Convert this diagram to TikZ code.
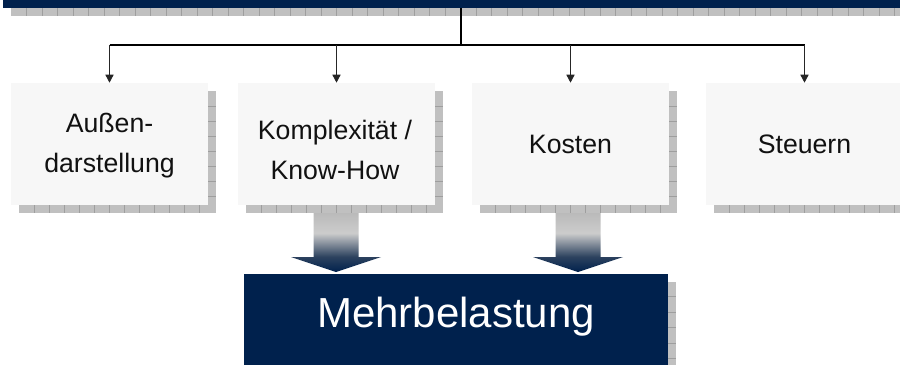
\documentclass[tikz,border=0pt]{standalone}
\usepackage{fontspec}
\setmainfont{Liberation Sans}
\usetikzlibrary{arrows.meta}
\definecolor{navy}{RGB}{0,33,77}
\definecolor{boxfill}{RGB}{247,247,247}
\definecolor{shadowgray}{RGB}{192,192,192}
\definecolor{gridgray}{RGB}{158,158,158}
\definecolor{txt}{RGB}{17,17,17}
\pgfdeclareverticalshading{blockshade}{100bp}{%
  color(0bp)=(navy); color(25bp)=(navy); color(38bp)=(navy!65!gray);
  color(58bp)=(black!20); color(75bp)=(black!27); color(100bp)=(black!27)}
\tikzset{
  box/.style={fill=boxfill, minimum width=147.75pt, minimum height=91.5pt, inner sep=0pt},
  lbl/.style={font=\fontsize{20}{30}\selectfont, align=center, inner sep=0pt, text=txt},
  gridline/.style={gridgray, line width=0.6pt},
  conn/.style={black, line width=0.8pt},
  drop/.style={black!85, line width=1pt, -{Triangle[width=6pt,length=6pt]}},
  blockarrow/.style={shading=blockshade}
}
\newcommand{\gshadow}[4]{%
  \fill[shadowgray] ({#1+8},{#4}) rectangle ({#3+8},{#4+8});
  \fill[shadowgray] ({#3},{#2+8}) rectangle ({#3+8},{#4+8});
  \foreach \k in {1,...,12} \draw[gridline] ({#1+8+15*\k},{#4}) -- ++(0,8);
  \foreach \k in {1,...,7} \draw[gridline] ({#3},{#2+8+15*\k}) -- ++(8,0);
}
\begin{document}
\begin{tikzpicture}[x=0.75pt,y=-0.75pt]
\useasboundingbox (0,0) rectangle (900,365);
\fill[white] (0,0) rectangle (900,365);
% top bar
\fill[shadowgray] (11,8) rectangle (900,16);
\foreach \k in {1,...,57} \draw[gridline] ({11+15.5*\k},8) -- ++(0,8);
\node[fill=navy, minimum width=672.75pt, minimum height=6pt, inner sep=0pt] (top) at (451.5,4) {};
% shadows
\gshadow{11}{83}{208}{205}
\gshadow{238}{83}{435}{205}
\gshadow{472}{83}{669}{205}
\gshadow{706}{83}{903}{205}
% boxes
\node[box] (b1) at (109.5,144) {};
\node[box] (b2) at (336.5,144) {};
\node[box] (b3) at (570.5,144) {};
\node[box] (b4) at (804.5,144) {};
\node[lbl] (t1) at (109.5,146) {Außen-\\darstellung};
\node[lbl] (t2) at (335,150) {Komplexität /\\Know-How};
\node[lbl] (t3) at (570.5,144) {Kosten};
\node[lbl] (t4) at (804.5,144) {Steuern};
% connectors
\coordinate (hub) at (461,45);
\draw[black, line width=1.5pt] (top.south -| hub) -- (hub);
\draw[conn] (b1.north |- hub) -- (b4.north |- hub);
\foreach \b in {b1,b2,b3,b4} \draw[drop] (\b.north |- hub) -- (\b.north);
% Mehrbelastung
\fill[shadowgray] (668,282) rectangle (676,365);
\foreach \k in {1,...,5} \draw[gridline] (668,{281+15.5*\k}) -- ++(8,0);
\node[fill=navy, minimum width=318pt, minimum height=68.25pt, inner sep=0pt] (m) at (456,319.5) {};
\node[font=\fontsize{31.5}{36}\selectfont, text=white, inner sep=0pt] (mt) at (456,317) {Mehrbelastung};
% block arrows
\path[blockarrow] (313.5,213) -- (358.5,213) -- (358.5,257) -- (381,257) -- (336,272) -- (291,257) -- (313.5,257) -- cycle;
\path[blockarrow] (555.5,213) -- (600.5,213) -- (600.5,257) -- (623,257) -- (578,272) -- (533,257) -- (555.5,257) -- cycle;
\end{tikzpicture}
\end{document}
